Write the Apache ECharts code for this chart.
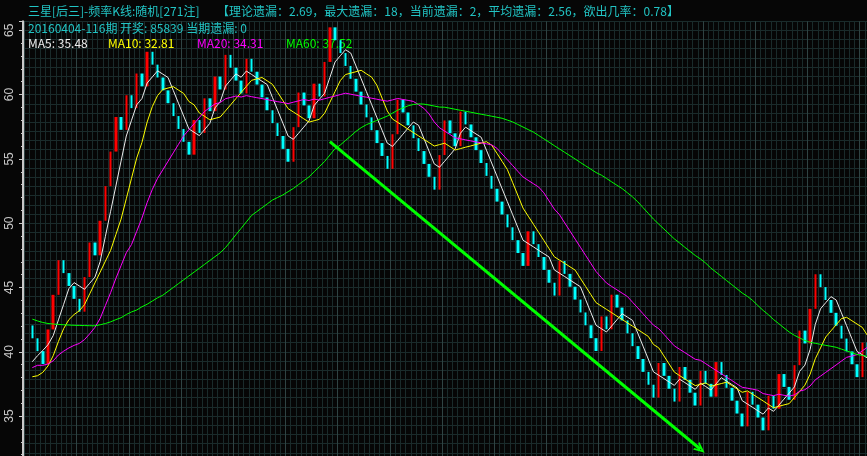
<!DOCTYPE html>
<html><head><meta charset="utf-8">
<script src="https://cdn.jsdelivr.net/npm/echarts@6/dist/echarts.min.js"></script>
<style>html,body{margin:0;padding:0;background:#060606;}#main{width:867px;height:456px;}</style>
</head><body><div id="main"></div>
<script>
// ---- data ----
const firstOpen = 42.05;
const closes = [
  41.05, 40.05, 39.05, 41.74, 44.43, 47.12, 46.12, 45.12, 44.12, 43.12,
  45.81, 48.50, 47.50, 50.19, 52.88, 55.57, 58.26, 57.26, 59.95, 58.95,
  61.64, 60.64, 63.33, 62.33, 61.33, 60.33, 59.33, 58.33, 57.33, 56.33,
  55.33, 58.02, 57.02, 59.71, 58.71, 61.40, 60.40, 63.09, 62.09, 61.09,
  60.09, 62.78, 61.78, 60.78, 59.78, 58.78, 57.78, 56.78, 55.78, 54.78,
  57.47, 60.16, 59.16, 58.16, 60.85, 59.85, 62.54, 65.23, 64.23, 63.23,
  62.23, 61.23, 60.23, 59.23, 58.23, 57.23, 56.23, 55.23, 54.23, 56.92,
  59.61, 58.61, 57.61, 56.61, 55.61, 54.61, 53.61, 52.61, 55.30, 57.99,
  56.99, 55.99, 58.68, 57.68, 56.68, 55.68, 54.68, 53.68, 52.68, 51.68,
  50.68, 49.68, 48.68, 47.68, 46.68, 49.37, 48.37, 47.37, 46.37, 45.37,
  44.37, 47.06, 46.06, 45.06, 44.06, 43.06, 42.06, 41.06, 40.06, 42.75,
  41.75, 44.44, 43.44, 42.44, 41.44, 40.44, 39.44, 38.44, 37.44, 36.44,
  39.13, 38.13, 37.13, 36.13, 38.82, 37.82, 36.82, 35.82, 38.51, 37.51,
  36.51, 39.20, 38.20, 37.20, 36.20, 35.20, 34.20, 36.89, 35.89, 34.89,
  33.89, 36.58, 35.58, 38.27, 37.27, 36.27, 38.96, 41.65, 40.65, 43.34,
  46.03, 45.03, 44.03, 43.03, 42.03, 41.03, 40.03, 39.03, 38.03, 40.72,
  39.72
];
// moving-average values before enough history is visible
const ma5Head = [39.23, 39.7, 40.1, 40.55];
const ma10Head = [38.06, 38.14, 38.4, 38.9, 39.7, 40.8, 41.8, 42.5, 42.9];
const ma20Head = [38.77, 38.95, 38.95, 39.05, 39.3, 39.75, 40.05, 40.3, 40.5, 40.65,
  40.95, 41.4, 41.9, 42.6, 43.6, 44.6, 45.7, 46.7, 47.7];
const ma60Head = [42.54, 42.4, 42.28, 42.2, 42.16, 42.13, 42.1, 42.08, 42.06, 42.05,
  42.04, 42.03, 42.02, 42.1, 42.2, 42.33, 42.5, 42.65, 42.9, 43.1,
  43.25, 43.5, 43.7, 43.95, 44.2, 44.4, 44.7, 45.0, 45.3, 45.6,
  45.9, 46.2, 46.5, 46.8, 47.1, 47.4, 47.7, 48.1, 48.6, 49.1,
  49.6, 50.1, 50.6, 50.9, 51.2, 51.5, 51.8, 52.0, 52.2, 52.45,
  52.7, 53.0, 53.3, 53.6, 54.0, 54.4, 54.8, 55.3, 55.8];
const yTickLabels = [35, 40, 45, 50, 55, 60, 65];
const titleA = '三星[后三]-频率K线:随机[271注]';
const titleB = '【理论遗漏：2.69，最大遗漏：18，当前遗漏：2，平均遗漏：2.56，欲出几率：0.78】';
const infoLine = '20160404-116期 开奖: 85839 当期遗漏: 0';
const maNames = ['MA5', 'MA10', 'MA20', 'MA60'];
const maLegendValues = ['35.48', '32.81', '34.31', '37.52'];
const maPeriods = [5, 10, 20, 60];
const arrowStart = [57, 56.34];   // [period index, value]
const arrowEnd = [128.05, 32.42];

// ---- build ----
const maColors = ['#ececec', '#ffff00', '#ff00ff', '#00ff00'];
const heads = [ma5Head, ma10Head, ma20Head, ma60Head];
const categories = [''].concat(closes.map((_, i) => String(i + 1)));
const opens = [firstOpen].concat(closes.slice(0, -1));
const kData = ['-'].concat(closes.map((c, i) => {
  const o = opens[i];
  return [o, c, Math.min(o, c), Math.max(o, c)];
}));
function movingAvg(n, head) {
  return closes.map((c, i) => {
    if (i < n - 1) return head[i];
    let s = 0;
    for (let k = i - n + 1; k <= i; k++) s += closes[k];
    return +(s / n).toFixed(2);
  });
}
const maSeries = maPeriods.map((n, j) => ({
  name: maNames[j], type: 'line', data: ['-'].concat(movingAvg(n, heads[j])),
  showSymbol: false, symbol: 'none', smooth: false, z: 5,
  lineStyle: { color: maColors[j], width: 1 }, itemStyle: { color: maColors[j] },
  silent: true, animation: false
}));

const dim = '#1a2b2b', bright = '#2f4343', txt = '#22c4c4';
const font = '12px "Noto Sans CJK SC", sans-serif';
const graphics = [
  { type: 'text', x: 28, y: 11, z: 1, style: { text: titleA, fill: txt, font, verticalAlign: 'middle' } },
  { type: 'text', x: 217, y: 11, z: 1, style: { text: titleB, fill: txt, font, verticalAlign: 'middle' } },
  { type: 'text', x: 28, y: 28, z: 1, style: { text: infoLine, fill: txt, font, verticalAlign: 'middle' } }
];
const legendX = [28, 108, 197, 286];
maNames.forEach((nm, j) => graphics.push({
  type: 'text', x: legendX[j], y: 43, z: 1,
  style: { text: nm + ': ' + maLegendValues[j], fill: maColors[j], font, verticalAlign: 'middle' }
}));

const chart = echarts.init(document.getElementById('main'), null, { renderer: 'canvas' });
chart.setOption({
  backgroundColor: '#060606',
  animation: false,
  graphic: { z: 1, elements: graphics },
  grid: { left: 24.5, width: 845.6, top: 21.3, height: 459.1, containLabel: false, outerBoundsMode: 'none' },
  xAxis: [
    { type: 'category', data: categories, boundaryGap: true,
      axisLine: { show: false }, axisTick: { show: false }, axisLabel: { show: false },
      splitLine: { show: true, interval: 0, lineStyle: { color: dim, width: 1 } } },
    { type: 'category', data: categories, boundaryGap: true, position: 'top',
      axisLine: { show: false }, axisTick: { show: false }, axisLabel: { show: false },
      splitLine: { show: true, interval: 9, lineStyle: { color: bright, width: 1 } } }
  ],
  yAxis: [
    { type: 'value', min: 30, max: 65.7, interval: 5, position: 'left', offset: 1.5,
      axisLine: { show: true, lineStyle: { color: '#c8c8c8', width: 2 } },
      axisTick: { show: true, inside: false, length: 4, lineStyle: { color: '#c8c8c8' } },
      minorTick: { show: true, splitNumber: 5, length: 2, lineStyle: { color: '#c8c8c8' } },
      axisLabel: { rotate: 90, margin: 7, color: '#c8c8c8', fontSize: 12, fontFamily: 'Liberation Sans',
        showMaxLabel: false,
        formatter: v => yTickLabels.indexOf(Math.round(v * 100) / 100) >= 0 ? String(v) : '' },
      splitLine: { show: true, lineStyle: { color: bright, width: 1 } } },
    { type: 'value', min: 30, max: 65.7, interval: 5 / 7, position: 'right',
      axisLine: { show: false }, axisTick: { show: false }, axisLabel: { show: false },
      splitLine: { show: true, lineStyle: { color: dim, width: 1 } } }
  ],
  series: [
    { type: 'candlestick', xAxisIndex: 0, yAxisIndex: 0, data: kData, barWidth: 3, z: 3,
      itemStyle: { color: '#ff0000', color0: '#00ffff', borderColor: '#ff0000', borderColor0: '#00ffff', borderWidth: 0 },
      markLine: {
        silent: true, animation: false,
        symbol: ['none', 'path://M0,10 L5,0 L10,10 L8,10 L5,4 L2,10 Z'], symbolSize: [10, 11],
        label: { show: false },
        lineStyle: { color: '#00ff00', width: 3, type: 'solid' },
        emphasis: { disabled: true },
        data: [[{ coord: [arrowStart[0] + 1, arrowStart[1]] }, { coord: [arrowEnd[0] + 1, arrowEnd[1]] }]]
      } }
  ].concat(maSeries)
});
</script></body></html>
